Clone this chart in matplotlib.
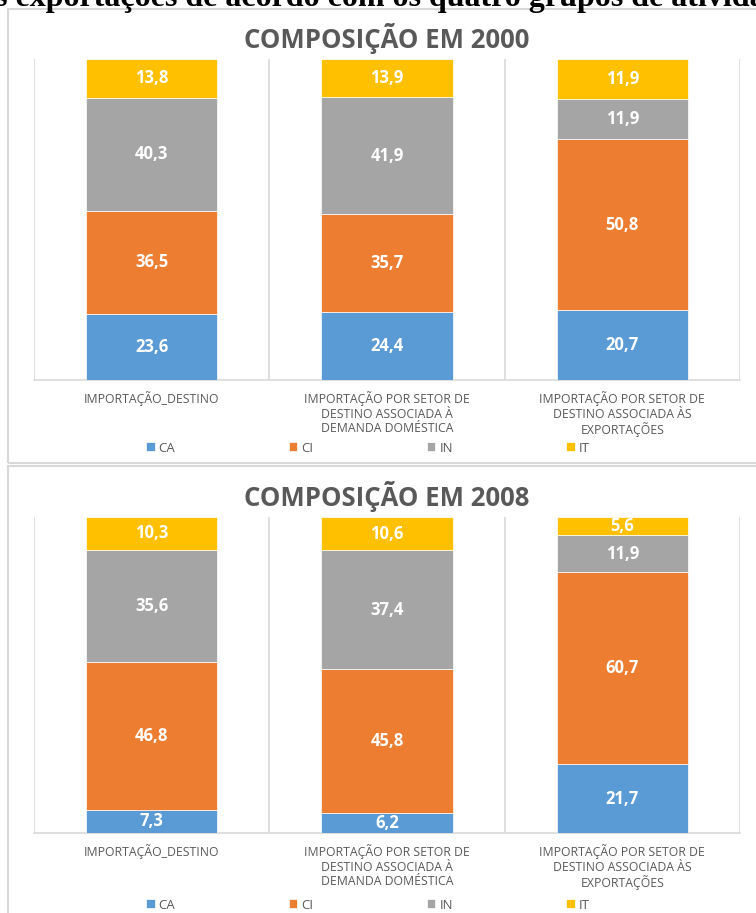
import numpy as np
import matplotlib.pyplot as plt
from matplotlib.patches import Rectangle

categories = [
    "IMPORTAÇÃO_DESTINO",
    "IMPORTAÇÃO POR SETOR DE\nDESTINO ASSOCIADA À\nDEMANDA DOMÉSTICA",
    "IMPORTAÇÃO POR SETOR DE\nDESTINO ASSOCIADA ÀS\nEXPORTAÇÕES",
]
series_names = ["CA", "CI", "IN", "IT"]

ca_2000 = [23.6, 24.4, 20.7]
ci_2000 = [36.5, 35.7, 50.8]
in_2000 = [40.3, 41.9, 11.9]
it_2000 = [13.8, 13.9, 11.9]

ca_2008 = [7.3, 6.2, 21.7]
ci_2008 = [46.8, 45.8, 60.7]
in_2008 = [35.6, 37.4, 11.9]
it_2008 = [10.3, 10.6, 5.6]

colors = ["#5B9BD5", "#ED7D31", "#A5A5A5", "#FFC000"]
GRAY = "#595959"
LINE = "#D9D9D9"

W, H = 756, 913
fig = plt.figure(figsize=(W / 100, H / 100), dpi=100)


def fx(px):
    return px / W


def fy(px):
    return 1 - px / H


# cut-off heading from the source document (only its lower half shows)
fig.text(fx(-5), fy(6), "s exportações de acordo com os quatro grupos de atividade",
         family="Liberation Serif", weight="bold", fontsize=23, color="black",
         ha="left", va="baseline")

# panel frames
for top, bottom in [(9, 463), (466, 925)]:
    fig.add_artist(Rectangle((fx(7.5), fy(bottom)), fx(780) - fx(7.5), fy(top) - fy(bottom),
                             transform=fig.transFigure, fill=False,
                             edgecolor=LINE, linewidth=1.5, clip_on=False))


def draw_panel(ax, title, title_y, legend_y, values):
    data = np.array(values, dtype=float)
    shares = data / data.sum(axis=0)
    x = np.arange(len(categories))
    bottom = np.zeros(len(categories))
    handles = []
    for i, name in enumerate(series_names):
        bars = ax.bar(x, shares[i], 0.557, bottom=bottom, color=colors[i],
                      edgecolor="white", linewidth=0.5, label=name, zorder=3)
        handles.append(bars)
        for xi, b, h, v in zip(x, bottom, shares[i], data[i]):
            ax.text(xi, b + h / 2, f"{v:.1f}".replace(".", ","), ha="center", va="center",
                    color="white", fontsize=12, weight="bold", family="Open Sans", zorder=4)
        bottom += shares[i]

    ax.set_xlim(-0.5, 2.5)
    ax.set_ylim(0, 1)
    ax.set_xticks(x)
    ax.set_xticklabels(categories, fontsize=8.8, color=GRAY, family="Open Sans",
                       linespacing=1.15)
    ax.set_xticks([-0.5, 0.5, 1.5, 2.5], minor=True)
    ax.tick_params(axis="x", which="both", length=0, pad=8)
    ax.grid(axis="x", which="minor", color=LINE, linewidth=1.2, zorder=0)
    ax.set_yticks([])
    for s in ["top", "left", "right"]:
        ax.spines[s].set_visible(False)
    ax.spines["bottom"].set_color(LINE)
    ax.spines["bottom"].set_linewidth(1.2)

    fig.text(fx(387), fy(title_y), title, ha="center", va="center", fontsize=18.5,
             weight="bold", color=GRAY, family="Open Sans")
    fig.legend(handles=handles, labels=series_names, loc="center",
               bbox_to_anchor=(fx(368), fy(legend_y)), ncol=4, frameon=False,
               labelcolor=GRAY, prop={"family": "Open Sans", "size": 9.5},
               handlelength=0.65, handleheight=0.65, handletextpad=0.3,
               columnspacing=8.6)


ax1 = fig.add_axes([fx(34), fy(380), fx(740) - fx(34), fy(59) - fy(380)])
draw_panel(ax1, "COMPOSIÇÃO EM 2000", 39, 448,
           [ca_2000, ci_2000, in_2000, it_2000])

ax2 = fig.add_axes([fx(34), fy(833), fx(740) - fx(34), fy(517) - fy(833)])
draw_panel(ax2, "COMPOSIÇÃO EM 2008", 496, 905,
           [ca_2008, ci_2008, in_2008, it_2008])

fig.savefig("out.png", dpi=100)
